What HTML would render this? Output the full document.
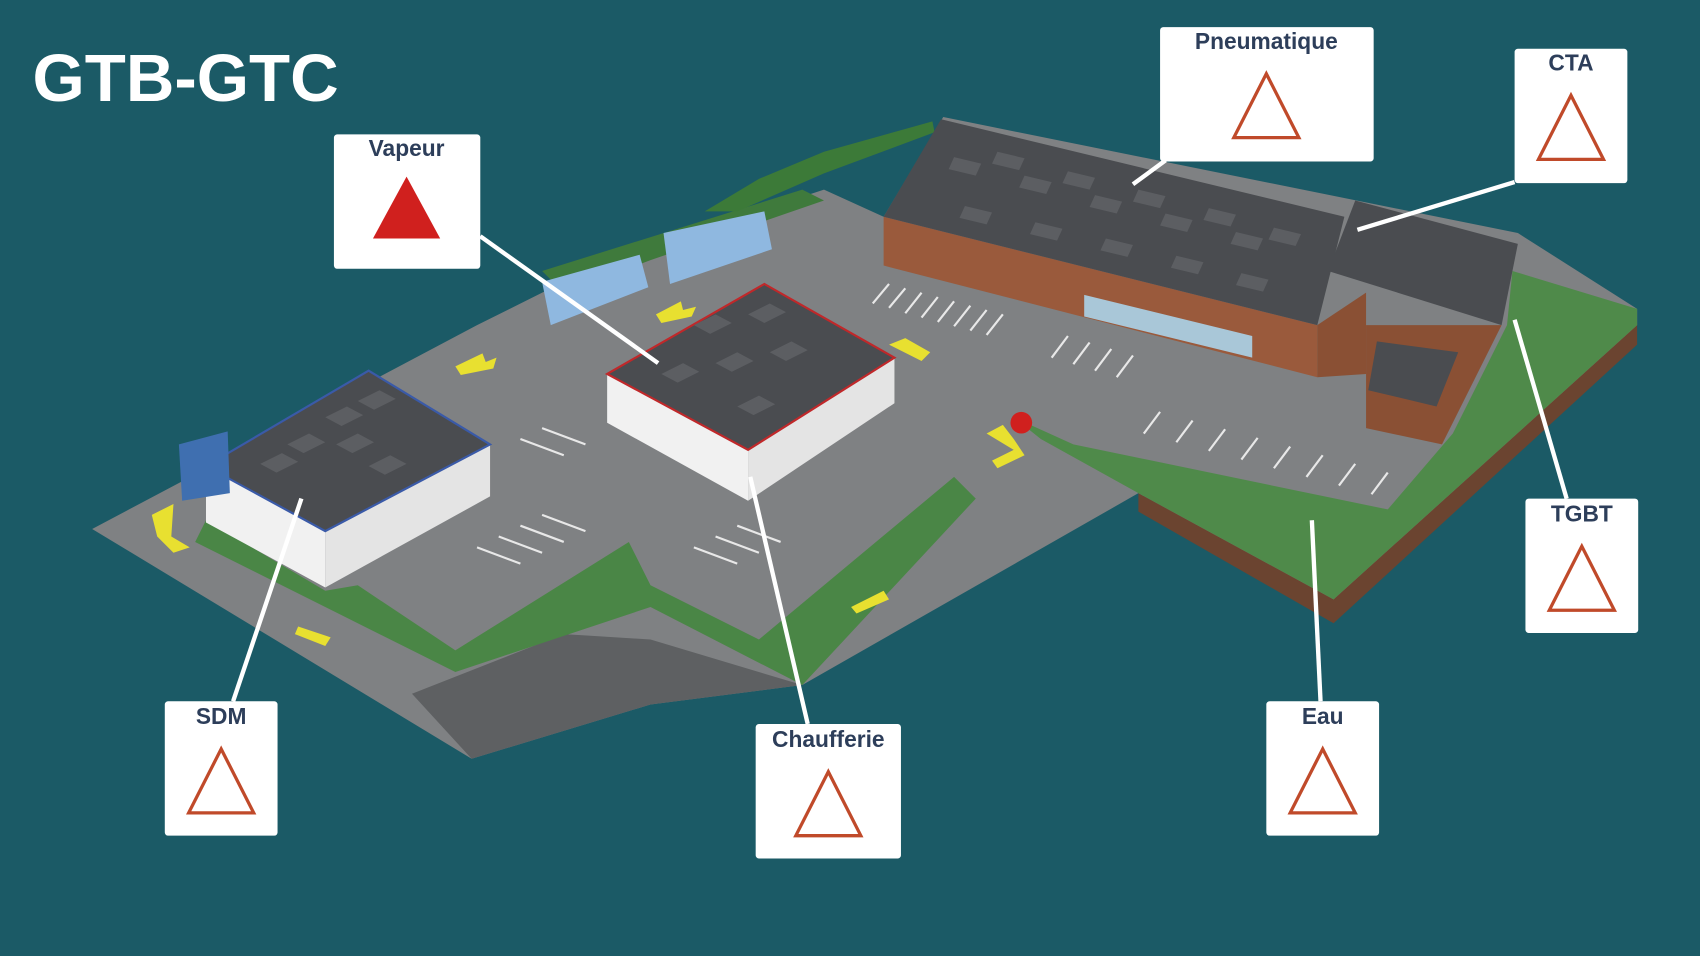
<!DOCTYPE html>
<html><head><meta charset="utf-8"><style>
html,body{margin:0;padding:0;background:#1b5a66;}
svg{display:block}
text{font-family:"Liberation Sans",sans-serif;}
</style></head><body>
<svg width="1700" height="956" viewBox="0 0 1568 882" preserveAspectRatio="none" xmlns="http://www.w3.org/2000/svg">
<rect width="1568" height="882" fill="#1b5a66"/>
<!-- earth edge -->
<polygon points="1050,455 1230,552 1510,298 1510,318 1230,575 1050,472" fill="#6b4430"/>
<!-- site -->
<polygon points="85,488 440,300 560,240 760,175 815,200 870,108 1400,215 1510,285 1510,300 1230,553 1050,455 740,632 600,650 435,700" fill="#7f8183"/>
<!-- dark lower area -->
<polygon points="380,640 520,585 600,590 740,632 600,650 435,700" fill="#5e6062"/>
<!-- green right lawn -->
<polygon points="1395,250 1510,285 1510,300 1230,553 1050,455 960,405 935,385 990,410 1280,470 1340,400 1390,300" fill="#4f8a4a"/>
<!-- green strips -->
<polygon points="190,480 300,545 330,540 420,600 580,500 600,540 700,590 880,440 900,460 740,632 600,560 420,620 300,560 180,500" fill="#4a8646"/>
<polygon points="500,250 740,175 760,185 600,240 520,270" fill="#3f7a3c"/>
<polygon points="650,195 700,165 760,140 860,112 862,122 760,160 680,195" fill="#3c7a38"/>
<!-- parking lines -->
<g stroke="#e8e8e8" stroke-width="2">
<line x1="820" y1="262" x2="805" y2="280"/><line x1="835" y1="266" x2="820" y2="284"/><line x1="850" y1="270" x2="835" y2="289"/><line x1="865" y1="274" x2="850" y2="293"/><line x1="880" y1="278" x2="865" y2="297"/><line x1="895" y1="282" x2="880" y2="301"/><line x1="910" y1="286" x2="895" y2="305"/><line x1="925" y1="290" x2="910" y2="309"/>
<line x1="985" y1="310" x2="970" y2="330"/><line x1="1005" y1="316" x2="990" y2="336"/><line x1="1025" y1="322" x2="1010" y2="342"/><line x1="1045" y1="328" x2="1030" y2="348"/>
<line x1="1070" y1="380" x2="1055" y2="400"/><line x1="1100" y1="388" x2="1085" y2="408"/><line x1="1130" y1="396" x2="1115" y2="416"/><line x1="1160" y1="404" x2="1145" y2="424"/><line x1="1190" y1="412" x2="1175" y2="432"/><line x1="1220" y1="420" x2="1205" y2="440"/><line x1="1250" y1="428" x2="1235" y2="448"/><line x1="1280" y1="436" x2="1265" y2="456"/>
<line x1="480" y1="520" x2="440" y2="505"/><line x1="500" y1="510" x2="460" y2="495"/><line x1="520" y1="500" x2="480" y2="485"/><line x1="540" y1="490" x2="500" y2="475"/>
<line x1="680" y1="520" x2="640" y2="505"/><line x1="700" y1="510" x2="660" y2="495"/><line x1="720" y1="500" x2="680" y2="485"/>
<line x1="520" y1="420" x2="480" y2="405"/><line x1="540" y1="410" x2="500" y2="395"/>
</g>
<!-- containers -->
<polygon points="500,260 590,235 598,265 508,300" fill="#8fb8e0"/>
<polygon points="612,215 705,195 712,230 618,262" fill="#8fb8e0"/>
<!-- big right building -->
<polygon points="815,200 1215,300 1215,348 815,245" fill="#9a5a3c"/>
<polygon points="868,110 1240,200 1215,300 815,200" fill="#4a4c50"/>
<g fill="#5c5e62">
<polygon points="880,145 905,151 900,162 875,156"/><polygon points="920,140 945,146 940,157 915,151"/><polygon points="945,162 970,168 965,179 940,173"/><polygon points="985,158 1010,164 1005,175 980,169"/><polygon points="1010,180 1035,186 1030,197 1005,191"/><polygon points="1050,175 1075,181 1070,192 1045,186"/><polygon points="1075,197 1100,203 1095,214 1070,208"/><polygon points="1115,192 1140,198 1135,209 1110,203"/><polygon points="1140,214 1165,220 1160,231 1135,225"/><polygon points="1175,210 1200,216 1195,227 1170,221"/><polygon points="890,190 915,196 910,207 885,201"/><polygon points="955,205 980,211 975,222 950,216"/><polygon points="1020,220 1045,226 1040,237 1015,231"/><polygon points="1085,236 1110,242 1105,253 1080,247"/><polygon points="1145,252 1170,258 1165,269 1140,263"/>
</g>
<polygon points="1215,300 1260,270 1260,345 1215,348" fill="#8a5034"/>
<polygon points="1250,185 1400,225 1385,300 1225,250" fill="#4a4c50"/>
<polygon points="1260,300 1385,300 1330,410 1260,395" fill="#8a5034"/>
<polygon points="1270,315 1345,325 1325,375 1262,360" fill="#4a4c50"/>
<polygon points="1000,272 1155,310 1155,330 1000,292" fill="#a9c7d8"/>
<!-- center building -->
<polygon points="560,345 690,415 690,462 560,390" fill="#f1f1f1"/>
<polygon points="690,415 825,330 825,372 690,462" fill="#e4e4e4"/>
<polygon points="560,345 705,262 825,330 690,415" fill="#4a4c50" stroke="#c0282a" stroke-width="2"/>
<g fill="#5c5e62"><polygon points="640,300 660,290 675,298 655,308"/><polygon points="690,290 710,280 725,288 705,298"/><polygon points="610,345 630,335 645,343 625,353"/><polygon points="660,335 680,325 695,333 675,343"/><polygon points="710,325 730,315 745,323 725,333"/><polygon points="680,375 700,365 715,373 695,383"/></g>
<!-- left building -->
<polygon points="190,430 300,490 300,542 190,482" fill="#f1f1f1"/>
<polygon points="300,490 452,410 452,458 300,542" fill="#e4e4e4"/>
<polygon points="190,430 340,342 452,410 300,490" fill="#4a4c50" stroke="#3a5aa8" stroke-width="2"/>
<g fill="#5c5e62"><polygon points="300,385 320,375 335,383 315,393"/><polygon points="330,370 350,360 365,368 345,378"/><polygon points="265,410 285,400 300,408 280,418"/><polygon points="310,410 330,400 345,408 325,418"/><polygon points="240,428 260,418 275,426 255,436"/><polygon points="340,430 360,420 375,428 355,438"/></g>
<polygon points="165,410 210,398 212,455 168,462" fill="#3f6fb0"/>
<!-- yellow arrows -->
<g fill="#e8e030">
<polygon points="420,338 445,326 448,334 458,330 455,340 425,346"/>
<polygon points="605,290 628,278 630,286 642,283 638,292 610,298"/>
<polygon points="820,318 835,312 858,325 850,333"/>
<polygon points="785,560 815,545 820,553 790,566"/>
<polygon points="275,578 305,588 300,596 272,585"/>
<polygon points="140,475 160,465 158,495 175,505 160,510 145,495"/>
<polygon points="910,400 925,392 935,405 945,420 920,432 915,425 935,415"/>
</g>
<circle cx="942" cy="390" r="10" fill="#d0201e"/>
<!-- leader lines -->
<g stroke="#ffffff" stroke-width="4" fill="none">
<line x1="443" y1="218" x2="607" y2="335"/>
<line x1="1075" y1="148" x2="1045" y2="170"/>
<line x1="1397" y1="168" x2="1252" y2="212"/>
<line x1="1445" y1="460" x2="1397" y2="295"/>
<line x1="1218" y1="647" x2="1210" y2="480"/>
<line x1="745" y1="668" x2="692" y2="440"/>
<line x1="215" y1="647" x2="278" y2="460"/>
</g>
<!-- callouts -->
<g font-weight="bold" font-size="21" fill="#2d3e5a" text-anchor="middle">
<rect x="308" y="124" width="135" height="124" rx="3" fill="#fff"/>
<text x="375" y="144">Vapeur</text>
<polygon points="375,163 344,220 406,220" fill="#d0201e"/>

<rect x="1070" y="25" width="197" height="124" rx="3" fill="#fff"/>
<text x="1168" y="45">Pneumatique</text>
<polygon points="1168,68 1138,127 1198,127" fill="none" stroke="#c04a2a" stroke-width="3"/>

<rect x="1397" y="45" width="104" height="124" rx="3" fill="#fff"/>
<text x="1449" y="65">CTA</text>
<polygon points="1449,88 1419,147 1479,147" fill="none" stroke="#c04a2a" stroke-width="3"/>

<rect x="1407" y="460" width="104" height="124" rx="3" fill="#fff"/>
<text x="1459" y="481">TGBT</text>
<polygon points="1459,504 1429,563 1489,563" fill="none" stroke="#c04a2a" stroke-width="3"/>

<rect x="1168" y="647" width="104" height="124" rx="3" fill="#fff"/>
<text x="1220" y="668">Eau</text>
<polygon points="1220,691 1190,750 1250,750" fill="none" stroke="#c04a2a" stroke-width="3"/>

<rect x="697" y="668" width="134" height="124" rx="3" fill="#fff"/>
<text x="764" y="689">Chaufferie</text>
<polygon points="764,712 734,771 794,771" fill="none" stroke="#c04a2a" stroke-width="3"/>

<rect x="152" y="647" width="104" height="124" rx="3" fill="#fff"/>
<text x="204" y="668">SDM</text>
<polygon points="204,691 174,750 234,750" fill="none" stroke="#c04a2a" stroke-width="3"/>
</g>
<text x="30" y="93" font-size="62" font-weight="bold" fill="#ffffff">GTB-GTC</text>
</svg>
</body></html>
